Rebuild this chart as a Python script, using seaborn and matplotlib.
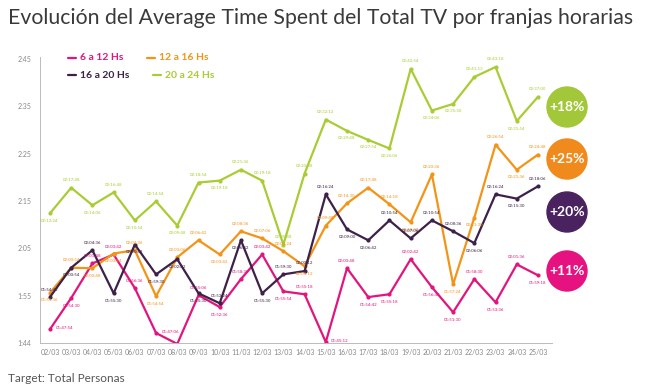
import matplotlib
matplotlib.use("Agg")
import pandas as pd
import matplotlib.pyplot as plt
import seaborn as sns
from matplotlib.patches import Circle

# Data (minutes)
dates = ["02/03", "03/03", "04/03", "05/03", "06/03", "07/03", "08/03", "09/03",
         "10/03", "11/03", "12/03", "13/03", "14/03", "15/03", "16/03", "17/03",
         "18/03", "19/03", "20/03", "21/03", "22/03", "23/03", "24/03", "25/03"]

franja_6_12 = [107.9, 114.5, 121.8, 123.7, 116.6, 107.1, 104.8, 115.1, 112.6, 118.5, 123.7, 115.9,
               115.3, 105.2, 120.8, 114.7, 115.3, 122.7, 116.8, 111.5, 118.5, 113.6, 121.6, 119.3]
franja_12_16 = [115.6, 120.9, 120.8, 123.9, 124.6, 114.9, 123.1, 126.7, 123.7, 128.6, 127.1, 124.4,
                121.2, 129.8, 134.5, 137.8, 134.3, 130.5, 140.6, 117.4, 131.5, 146.9, 141.6, 144.8]
franja_16_20 = [114.7, 120.9, 124.6, 115.5, 125.8, 119.5, 122.7, 115.5, 113.4, 126.7, 115.5, 119.5,
                120.2, 136.4, 129.0, 126.7, 130.9, 127.1, 130.9, 128.6, 126.1, 136.4, 135.5, 138.1]
franja_20_24 = [132.4, 137.8, 134.1, 136.8, 130.9, 134.9, 129.8, 138.9, 139.3, 141.6, 139.3, 125.8,
                140.8, 152.2, 149.8, 147.9, 146.1, 162.9, 154.1, 155.5, 161.2, 163.3, 151.9, 157.0]

series_names = ["6 a 12 Hs", "12 a 16 Hs", "16 a 20 Hs", "20 a 24 Hs"]
series_vals = [franja_6_12, franja_12_16, franja_16_20, franja_20_24]
colors = ["#E2157E", "#F39416", "#3D2149", "#A9CC34"]
circle_colors = ["#E6127F", "#F08A1C", "#4A2260", "#A2C83A"]
growth = ["+11%", "+25%", "+20%", "+18%"]

ytick_vals = [105, 115, 125, 135, 145, 155, 165]
ytick_labels = ["1:44", "1:55", "2:05", "2:15", "2:25", "2:35", "2:45"]

rows = []
for name, vals in zip(series_names, series_vals):
    for i, v in enumerate(vals):
        rows.append({"idx": i, "fecha": dates[i], "franja": name, "min": v})
df = pd.DataFrame(rows)

sns.set_style("white")
plt.rcParams["font.family"] = ["Lato", "DejaVu Sans"]

fig = plt.figure(figsize=(6.5, 3.9), dpi=100)
ax = fig.add_axes([40 / 650, 1 - 343 / 390, 512 / 650, 286.4 / 390])

sns.lineplot(data=df, x="idx", y="min", hue="franja", hue_order=series_names,
             palette=colors, linewidth=1.6, marker="o", markersize=3,
             markeredgewidth=0, ax=ax, legend=False)

# small value labels next to each point
def fmt(v):
    secs = int(round(v * 60))
    return f"{secs // 3600:02d}:{(secs // 60) % 60:02d}:{secs % 60:02d}"

placed = []
for vals, col in zip(series_vals, colors):
    for i, v in enumerate(vals):
        prev = vals[i - 1] if i > 0 else v
        nxt = vals[i + 1] if i < len(vals) - 1 else v
        above = v >= (prev + nxt) / 2
        ly = v + (1.5 if above else -1.5)
        if any(pi == i and abs(py - ly) < 2.0 for pi, py in placed):
            above = not above
            ly = v + (1.5 if above else -1.5)
        placed.append((i, ly))
        if v < 108 and not above:
            ax.annotate(fmt(v), (i, v), xytext=(4, 1), textcoords="offset points",
                        ha="left", va="center", fontsize=3.2, color=col)
            continue
        ax.annotate(fmt(v), (i, v), xytext=(0, 4 if above else -4),
                    textcoords="offset points", ha="center",
                    va="bottom" if above else "top", fontsize=3.2, color=col)

ax.set_xlim(-0.47, 23.66)
ax.set_ylim(105, 165.5)
ax.set_xticks(range(len(dates)))
ax.set_xticklabels(dates)
ax.set_xticks([i + 0.5 for i in range(len(dates) - 1)], minor=True)
ax.set_yticks(ytick_vals)
ax.set_yticklabels(ytick_labels)
ax.tick_params(axis="x", which="major", length=0, labelsize=5, colors="#888888", pad=4)
ax.tick_params(axis="x", which="minor", direction="in", length=4, color="#BBBBBB", width=0.6)
ax.tick_params(axis="y", direction="in", length=3, labelsize=5, colors="#888888",
               color="#BBBBBB", width=0.6, pad=6)
ax.set_xlabel("")
ax.set_ylabel("")
for s in ["top", "right"]:
    ax.spines[s].set_visible(False)
for s in ["left", "bottom"]:
    ax.spines[s].set_color("#BBBBBB")
    ax.spines[s].set_linewidth(0.7)

# overlay in pixel coordinates for title, legend and badges
ov = fig.add_axes([0, 0, 1, 1], facecolor="none")
ov.set_xlim(0, 650)
ov.set_ylim(390, 0)
ov.axis("off")

ov.text(8, 18, "Evolución del Average Time Spent del Total TV por franjas horarias",
        fontsize=15.3, color="#3A3A3A", va="center", ha="left")
ov.text(8, 378, "Target: Total Personas", fontsize=8.5, color="#555555", va="center")

legend_pos = [(68, 58), (147, 58), (68, 75), (153, 75)]
for (lx, ly), name, col in zip(legend_pos, series_names, colors):
    ov.plot([lx, lx + 8], [ly, ly], color=col, lw=1.6)
    ov.text(lx + 12, ly, name, color=col, fontsize=7.5, fontweight="bold", va="center")

badge_y = [271, 159, 212, 107]
for by, col, txt in zip(badge_y, circle_colors, growth):
    ov.add_patch(Circle((567, by), 20, color=col))
    ov.text(567, by, txt, color="white", fontsize=10, fontweight="bold",
            ha="center", va="center")

fig.savefig("out.png", dpi=100)
